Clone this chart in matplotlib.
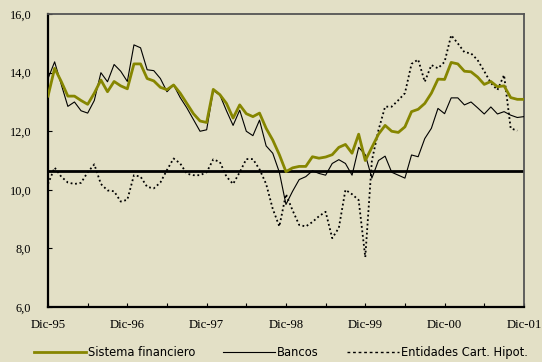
import numpy as np
import matplotlib.pyplot as plt

# monthly series, Dic-95 .. Dic-01 (73 months)
sistema = [13.2, 14.15, 13.7, 13.2, 13.2, 13.05, 12.92, 13.3, 13.75, 13.35,
           13.7, 13.55, 13.45, 14.3, 14.3, 13.8, 13.72, 13.5, 13.42, 13.58,
           13.3, 12.95, 12.6, 12.35, 12.3, 13.43, 13.25, 12.95, 12.45, 12.9,
           12.6, 12.5, 12.62, 12.1, 11.7, 11.2, 10.62, 10.75, 10.8, 10.8,
           11.13, 11.08, 11.12, 11.2, 11.45, 11.55, 11.25, 11.9, 11.0, 11.45,
           11.9, 12.2, 12.0, 11.96, 12.15, 12.67, 12.75, 12.95, 13.3, 13.78,
           13.77, 14.35, 14.3, 14.05, 14.03, 13.85, 13.6, 13.7, 13.52, 13.55,
           13.15, 13.09, 13.09]
bancos = [13.8, 14.37, 13.6, 12.85, 13.0, 12.7, 12.62, 13.05, 14.0, 13.69,
          14.28, 14.05, 13.7, 14.95, 14.85, 14.1, 14.07, 13.8, 13.35, 13.58,
          13.15, 12.8, 12.4, 12.0, 12.05, 13.39, 13.24, 12.7, 12.2, 12.72,
          12.0, 11.85, 12.38, 11.5, 11.25, 10.6, 9.5, 9.95, 10.35, 10.45,
          10.65, 10.56, 10.5, 10.9, 11.03, 10.9, 10.5, 11.45, 11.2, 10.4,
          11.0, 11.15, 10.6, 10.5, 10.4, 11.19, 11.13, 11.75, 12.1, 12.78,
          12.6, 13.14, 13.14, 12.9, 13.0, 12.8, 12.59, 12.83, 12.59, 12.67,
          12.55, 12.47, 12.5]
hipot = [10.2, 10.76, 10.45, 10.25, 10.2, 10.24, 10.6, 10.87, 10.2, 9.98,
         9.95, 9.6, 9.66, 10.5, 10.45, 10.1, 10.05, 10.25, 10.68, 11.07,
         10.9, 10.55, 10.5, 10.5, 10.6, 11.04, 10.95, 10.45, 10.2, 10.6,
         11.05, 11.05, 10.7, 10.2, 9.35, 8.75, 9.85, 9.3, 8.8, 8.75,
         8.9, 9.1, 9.25, 8.35, 8.7, 10.0, 9.85, 9.65, 7.7, 11.0,
         12.04, 12.84, 12.84, 13.06, 13.3, 14.3, 14.45, 13.69, 14.26, 14.15,
         14.37, 15.28, 15.0, 14.7, 14.66, 14.43, 14.05, 13.65, 13.41, 13.92,
         12.1, 12.02, np.nan]
media = 10.65
etiquetas = ['Dic-95', 'Dic-96', 'Dic-97', 'Dic-98', 'Dic-99', 'Dic-00', 'Dic-01']

meses = np.arange(len(sistema))
fondo = '#e3e0c6'

fig = plt.figure(figsize=(5.42, 3.62), dpi=100, facecolor=fondo)
ax = fig.add_axes([0.0886, 0.152, 0.878, 0.809], facecolor=fondo)

ax.axhline(media, color='black', lw=2.0, zorder=2)
ax.plot(meses, hipot, color='black', lw=1.3, ls=(0, (1, 1.5)), zorder=3)
ax.plot(meses, bancos, color='black', lw=0.8, zorder=4)
ax.plot(meses, sistema, color='#868600', lw=2.0, zorder=5)

ax.set_xlim(0, 72)
ax.set_ylim(6, 16)
ax.set_xticks(np.arange(0, 73, 12))
ax.set_xticklabels(etiquetas, family='Liberation Serif', fontsize=9.2)
ax.set_xticks(np.arange(6, 72, 12), minor=True)
ax.set_yticks(np.arange(6, 17, 2))
ax.yaxis.set_major_formatter(plt.FuncFormatter(lambda v, p: ('%.1f' % v).replace('.', ',')))
for t in ax.get_yticklabels():
    t.set_family('Liberation Serif')
    t.set_fontsize(8.8)
ax.tick_params(axis='both', which='both', direction='in', length=3, width=0.8, color='black')
ax.tick_params(axis='x', pad=9)
ax.tick_params(axis='y', pad=12)

for s in ['left', 'bottom']:
    ax.spines[s].set_linewidth(1.6)
    ax.spines[s].set_color('black')
for s in ['top', 'right']:
    ax.spines[s].set_linewidth(1.3)
    ax.spines[s].set_color('#555555')

h1, = plt.plot([], [], color='#868600', lw=2.0)
h2, = plt.plot([], [], color='black', lw=0.8)
h3, = plt.plot([], [], color='black', lw=1.0, ls=(0, (2, 2)))
fig.legend([h1, h2, h3], ['Sistema financiero', 'Bancos', 'Entidades Cart. Hipot.'],
           loc='center', bbox_to_anchor=(0.518, 0.025), ncol=3, frameon=False,
           handlelength=4.5, handletextpad=0.2, columnspacing=2.4,
           prop={'family': 'DejaVu Sans', 'size': 8.3})

fig.savefig('out.png', dpi=100, facecolor=fondo)
